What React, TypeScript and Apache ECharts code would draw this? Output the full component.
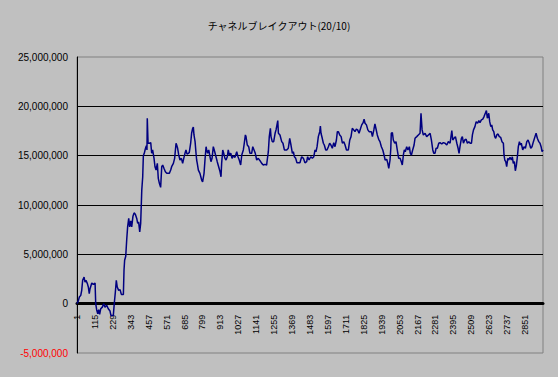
import React, { useEffect, useRef } from "react";
import * as echarts from "echarts";

const titleText = "チャネルブレイクアウト(20/10)";

// trade index (0-based; axis labels show index + 1)
const tradeIndex = [
  0, 2, 8, 15, 24, 30, 36, 45, 51, 57, 66, 72, 78, 83, 94, 104, 115, 119, 125, 132,
  138, 144, 151, 161, 170, 178, 189, 199, 210, 216, 231, 237, 244, 250, 256, 265, 274, 282, 295, 299,
  303, 310, 316, 322, 329, 335, 342, 348, 356, 363, 371, 380, 386, 392, 399, 405, 412, 418, 422, 428,
  434, 441, 445, 447, 452, 460, 469, 475, 481, 490, 496, 503, 511, 517, 524, 532, 539, 545, 553, 562,
  571, 587, 596, 602, 613, 621, 630, 634, 640, 647, 655, 664, 672, 679, 687, 693, 700, 708, 714, 723,
  729, 736, 740, 744, 751, 757, 761, 765, 772, 782, 793, 799, 808, 814, 821, 825, 831, 838, 846, 852,
  859, 867, 876, 884, 892, 901, 910, 916, 920, 927, 933, 941, 948, 956, 962, 969, 978, 986, 994, 1005,
  1016, 1024, 1032, 1041, 1048, 1058, 1064, 1071, 1075, 1083, 1092, 1100, 1111, 1118, 1126, 1134, 1143, 1153, 1164, 1175,
  1185, 1196, 1206, 1210, 1217, 1223, 1230, 1234, 1242, 1251, 1260, 1266, 1272, 1277, 1281, 1291, 1302, 1310, 1319, 1334,
  1344, 1353, 1361, 1370, 1376, 1383, 1391, 1399, 1418, 1429, 1440, 1450, 1461, 1467, 1476, 1487, 1497, 1506, 1514, 1520,
  1527, 1535, 1544, 1548, 1552, 1560, 1567, 1573, 1582, 1590, 1599, 1607, 1615, 1624, 1633, 1641, 1650, 1656, 1663, 1671,
  1680, 1688, 1697, 1705, 1714, 1726, 1735, 1743, 1751, 1760, 1768, 1777, 1785, 1794, 1802, 1811, 1820, 1826, 1832, 1841,
  1850, 1858, 1866, 1872, 1879, 1888, 1895, 1901, 1910, 1919, 1927, 1936, 1945, 1953, 1960, 1970, 1977, 1983, 1991, 1996,
  1999, 2006, 2012, 2021, 2029, 2037, 2046, 2055, 2063, 2069, 2076, 2082, 2088, 2097, 2105, 2114, 2120, 2127, 2135, 2144,
  2150, 2161, 2171, 2182, 2188, 2195, 2203, 2214, 2224, 2235, 2246, 2254, 2263, 2269, 2277, 2284, 2292, 2301, 2309, 2320,
  2330, 2341, 2352, 2362, 2373, 2384, 2390, 2398, 2407, 2416, 2424, 2430, 2436, 2445, 2451, 2458, 2466, 2475, 2483, 2492,
  2501, 2509, 2515, 2522, 2531, 2539, 2548, 2556, 2563, 2572, 2581, 2589, 2597, 2604, 2610, 2619, 2625, 2632, 2638, 2644,
  2651, 2657, 2663, 2670, 2678, 2686, 2695, 2703, 2712, 2716, 2721, 2727, 2733, 2740, 2746, 2754, 2763, 2769, 2775, 2782,
  2788, 2795, 2801, 2807, 2814, 2820, 2826, 2835, 2843, 2852, 2861, 2869, 2877, 2886, 2894, 2903, 2913, 2920, 2928, 2937,
  2945, 2952, 2958, 2964,
];

// cumulative profit (yen)
const equity = [
  0, 0, 260000, 670000, 840000, 1350000, 2370000, 2700000, 2190000, 2370000, 2030000, 1690000, 1020000, 1520000, 2090000, 1960000, 2090000, 0, -610000, -1020000,
  -610000, -1090000, -510000, -350000, 0, -350000, -170000, -510000, -750000, -1200000, -1200000, 0, 1180000, 2370000, 1690000, 1350000, 1420000, 940000, 940000, 3380000,
  4400000, 4800000, 6430000, 7780000, 8640000, 7780000, 8390000, 7780000, 8870000, 9200000, 9070000, 8640000, 8130000, 8290000, 7270000, 8130000, 11510000, 12860000, 15000000, 15240000,
  15650000, 16000000, 15580000, 18800000, 16260000, 16260000, 16320000, 15240000, 15580000, 14730000, 13880000, 13540000, 14220000, 12700000, 12190000, 11790000, 13880000, 14050000, 13720000, 13370000,
  13210000, 13210000, 13540000, 13880000, 14220000, 14730000, 16260000, 16080000, 15750000, 15070000, 14560000, 14730000, 14220000, 14730000, 15240000, 15580000, 15170000, 15240000, 15310000, 16260000,
  17270000, 17780000, 17900000, 17100000, 16420000, 15240000, 14560000, 14220000, 13540000, 13210000, 12530000, 12350000, 13210000, 14560000, 15910000, 15580000, 15240000, 15580000, 14890000, 14390000,
  14730000, 15910000, 15400000, 14890000, 14390000, 13880000, 13370000, 12860000, 14220000, 15580000, 15240000, 14730000, 14560000, 14890000, 15580000, 15070000, 15240000, 14730000, 14970000, 14830000,
  15400000, 14890000, 14560000, 14050000, 15070000, 15580000, 16260000, 17100000, 16930000, 16080000, 15910000, 15240000, 15240000, 15910000, 15580000, 15240000, 14560000, 14730000, 14490000, 14220000,
  14050000, 14120000, 14050000, 14560000, 15400000, 16930000, 17780000, 16930000, 16420000, 16420000, 17270000, 17610000, 18120000, 18550000, 17270000, 17100000, 16420000, 16260000, 15580000, 15580000,
  15750000, 16760000, 16080000, 15240000, 15400000, 14890000, 14730000, 14280000, 14280000, 14890000, 14730000, 14280000, 14390000, 14890000, 14560000, 14890000, 14730000, 14890000, 15580000, 15400000,
  15910000, 16930000, 17430000, 18010000, 17270000, 16760000, 16260000, 16080000, 15580000, 15580000, 15910000, 16260000, 16080000, 15750000, 16320000, 15910000, 16590000, 17430000, 17430000, 17100000,
  16930000, 16260000, 16420000, 16080000, 15580000, 15580000, 16590000, 16930000, 17780000, 17610000, 17430000, 17680000, 17610000, 17270000, 17680000, 18120000, 18350000, 18690000, 18290000, 18120000,
  17610000, 17430000, 17430000, 17430000, 16930000, 17610000, 18220000, 17780000, 17100000, 16660000, 16420000, 15910000, 15580000, 15070000, 14560000, 14630000, 14220000, 13720000, 14560000, 15750000,
  17270000, 17330000, 16590000, 16260000, 16420000, 15580000, 14730000, 14730000, 14390000, 14050000, 15070000, 15580000, 15400000, 15910000, 15580000, 15910000, 15240000, 15070000, 15580000, 16080000,
  16760000, 16930000, 17100000, 17270000, 19300000, 17610000, 17100000, 17270000, 16930000, 17100000, 17270000, 16590000, 15580000, 15240000, 15240000, 15750000, 15750000, 16260000, 16320000, 16180000,
  16320000, 16260000, 16080000, 16420000, 16260000, 17540000, 16590000, 16760000, 16930000, 16260000, 15750000, 15240000, 15910000, 16760000, 16930000, 16260000, 16590000, 16660000, 16260000, 16420000,
  16260000, 16260000, 17100000, 17610000, 17940000, 18450000, 18290000, 18550000, 18350000, 18620000, 18700000, 18960000, 19300000, 19570000, 18800000, 19300000, 18450000, 17940000, 18120000, 17610000,
  17430000, 16930000, 16760000, 17100000, 17200000, 16930000, 16850000, 16420000, 16260000, 15070000, 14560000, 14390000, 13880000, 14730000, 14560000, 14830000, 14560000, 14890000, 14220000, 14390000,
  13470000, 14050000, 14890000, 15910000, 16420000, 16080000, 16260000, 15580000, 15910000, 15750000, 16420000, 16590000, 16260000, 15750000, 15910000, 16420000, 16930000, 17270000, 16760000, 16420000,
  16260000, 15910000, 15400000, 15580000,
];

const yMin = -5000000;
const yMax = 25000000;
const yStep = 5000000;
const xMax = 2964;
const xStep = 114;

const gridTop = 57;
const gridBottom = 24;
const chartH = 377;

export default function App() {
  const ref = useRef<HTMLDivElement>(null);

  useEffect(() => {
    document.body.style.margin = "0";
    if (!ref.current) return;
    const chart = echarts.init(ref.current, null, { renderer: "svg" });
    const data = tradeIndex.map((t, i) => [t, equity[i]]);
    const plotH = chartH - gridTop - gridBottom;
    // distance from bottom of plot up to the zero line
    const zeroOffset = (plotH * (0 - yMin)) / (yMax - yMin);
    chart.setOption({
      animation: false,
      backgroundColor: "#C0C0C0",
      title: {
        text: titleText,
        left: "center",
        top: 15,
        textStyle: {
          fontSize: 10,
          fontWeight: "normal",
          color: "#000",
          fontFamily: "'Noto Sans CJK JP', sans-serif",
        },
      },
      grid: {
        left: 77,
        right: 15,
        top: gridTop,
        bottom: gridBottom,
        containLabel: false,
        outerBoundsMode: "none",
        show: true,
        borderColor: "#808080",
        borderWidth: 1,
        backgroundColor: "transparent",
      },
      xAxis: {
        type: "value",
        position: "bottom",
        offset: -zeroOffset,
        min: 0,
        max: xMax,
        interval: xStep,
        axisLine: { show: true, onZero: false, lineStyle: { color: "#000", width: 3 } },
        axisTick: { show: false },
        splitLine: { show: false },
        axisLabel: {
          rotate: 90,
          margin: 11,
          fontSize: 9,
          color: "#000",
          fontFamily: "'Liberation Sans', Arial, sans-serif",
          showMaxLabel: false,
          showMinLabel: true,
          formatter: (v: number) => String(v + 1),
        },
      },
      yAxis: {
        type: "value",
        min: yMin,
        max: yMax,
        interval: yStep,
        axisLine: { show: true, onZero: false, lineStyle: { color: "#000", width: 1 } },
        axisTick: { show: false },
        splitLine: {
          show: true,
          showMinLine: false,
          showMaxLine: false,
          lineStyle: { color: "#000", width: 1 },
        },
        axisLabel: {
          margin: 9,
          fontSize: 10,
          fontFamily: "'Liberation Sans', Arial, sans-serif",
          color: (v: number) => (Number(v) < 0 ? "#FF0000" : "#000"),
          formatter: (v: number) => v.toLocaleString("en-US"),
        },
      },
      series: [
        {
          type: "line",
          data,
          symbol: "none",
          lineStyle: { color: "#000080", width: 1.5 },
          z: 3,
        },
      ],
    });
    return () => chart.dispose();
  }, []);

  return (
    <div
      ref={ref}
      style={{ position: "fixed", left: 0, top: 0, width: 558, height: 377, background: "#C0C0C0" }}
    />
  );
}
